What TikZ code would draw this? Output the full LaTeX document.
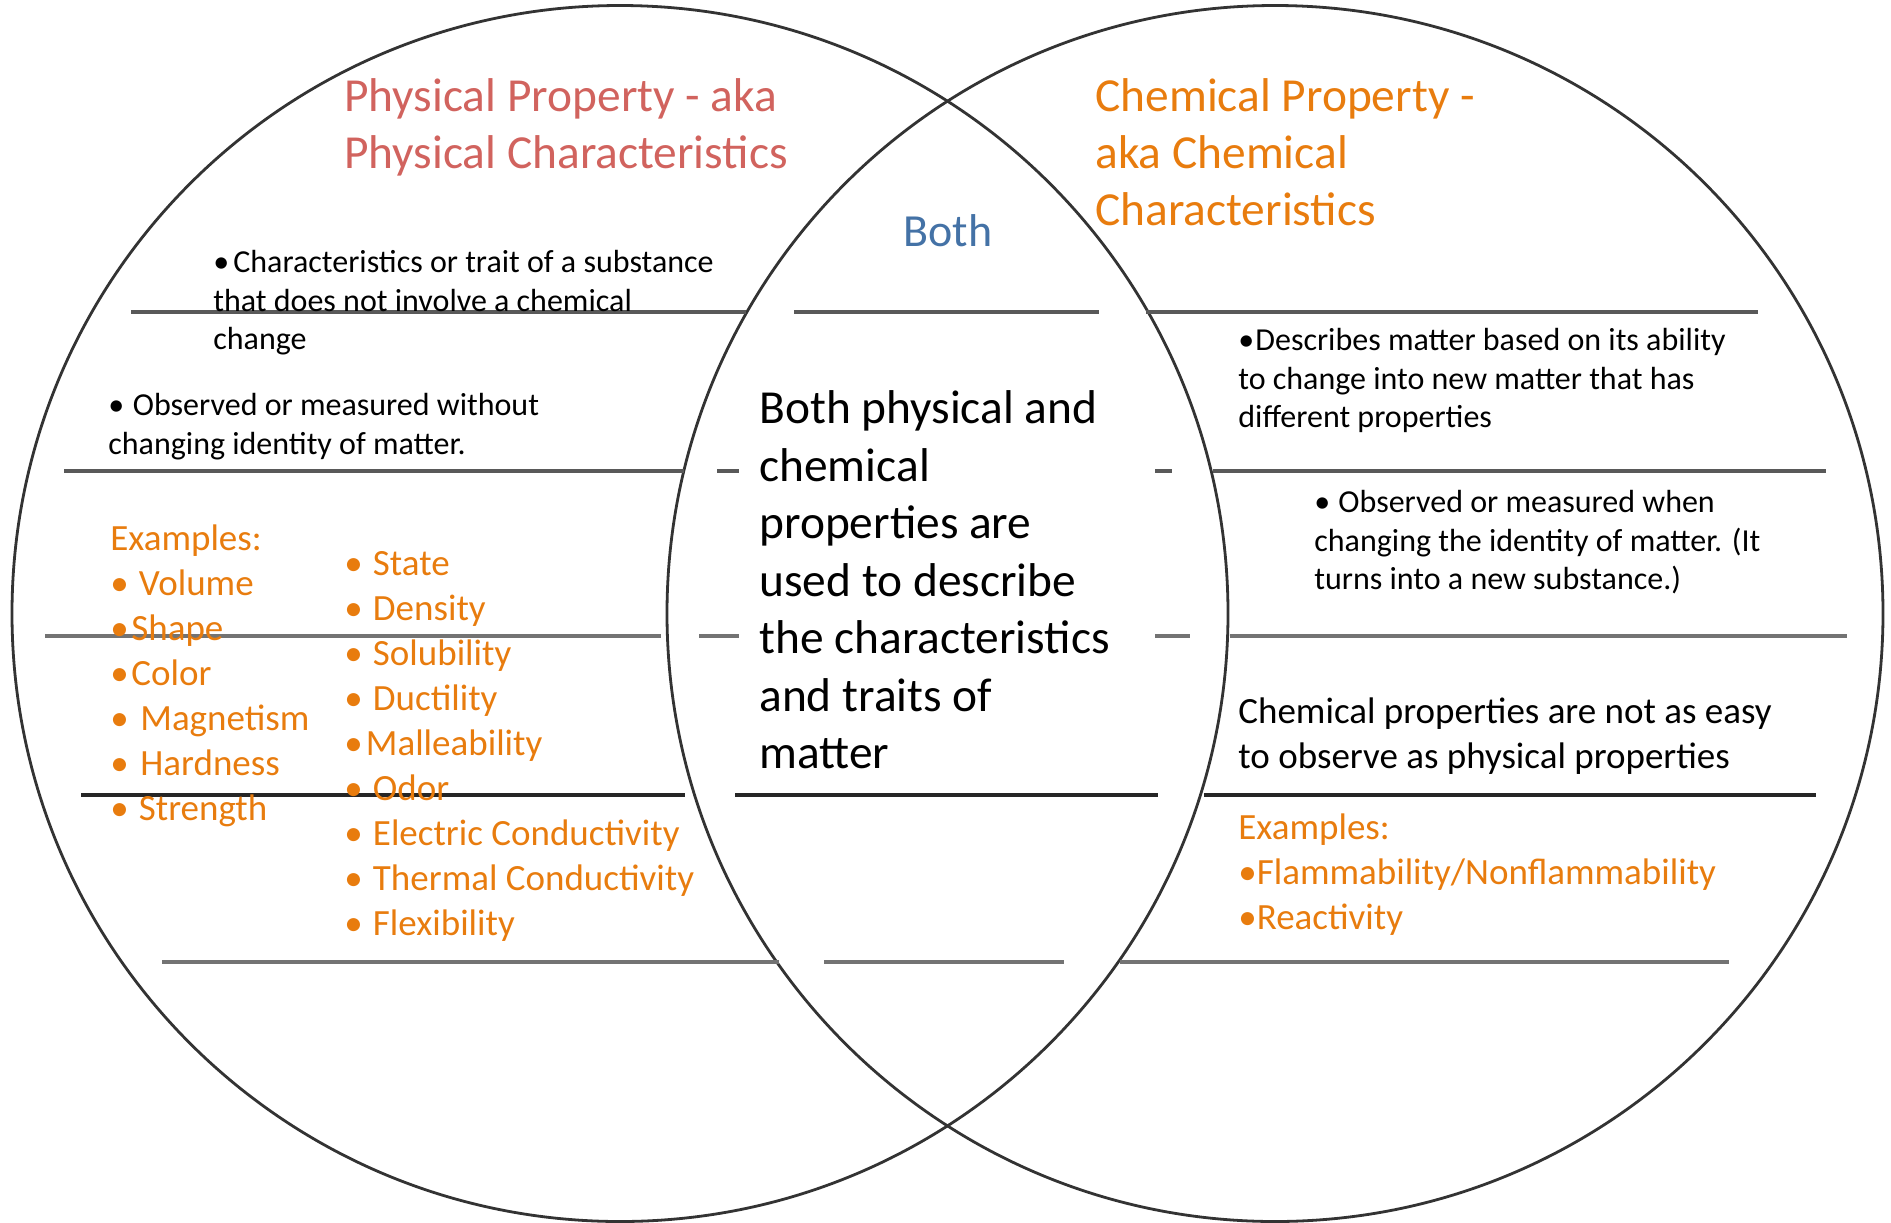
\documentclass[tikz,border=0pt]{standalone}
\usepackage{fontspec}
\setmainfont{Carlito}
\definecolor{physred}{RGB}{209,99,94}
\definecolor{chemorange}{RGB}{232,124,14}
\definecolor{bothblue}{RGB}{68,114,166}
\newcommand{\bul}[1]{\makebox[#1][l]{\textbullet}}

\begin{document}
\begin{tikzpicture}[x=0.5pt, y=-0.5pt,
	ring/.style={draw=black!80, line width=1.4pt},
	rule/.style={line width=2.2pt, draw=black!65},
	head/.style={anchor=north west, inner sep=0pt, align=left, font=\fontsize{23.7}{28.5}\selectfont},
	note/.style={anchor=north west, inner sep=0pt, align=left, font=\fontsize{16}{19.3}\selectfont},
	list/.style={anchor=north west, inner sep=0pt, align=left, text=chemorange, font=\fontsize{18.5}{22.5}\selectfont}]
	\useasboundingbox (0, 0) rectangle (1891, 1222);

	\draw[ring] (620, 613.5) circle [radius=608];			% physical circle
	\draw[ring] (1275, 613.5) circle [radius=608];			% chemical circle

	\draw[rule] (131, 312) -- (746, 312) (794, 312) -- (1099, 312) (1146, 312) -- (1758, 312);
	\draw[rule] (64, 471) -- (684, 471) (717, 471) -- (739, 471) (1155, 471) -- (1172, 471) (1213, 471) -- (1826, 471);
	\draw[rule, draw=black!55] (45, 636) -- (661, 636) (699, 636) -- (739, 636) (1155, 636) -- (1190, 636) (1230, 636) -- (1847, 636);
	\draw[rule, draw=black!85] (81, 795) -- (685, 795) (735, 795) -- (1158, 795) (1204, 795) -- (1816, 795);
	\draw[rule, draw=black!55] (162, 962) -- (779, 962) (824, 962) -- (1064, 962) (1120, 962) -- (1729, 962);

	% headings
	\node[head, text=physred] (phys) at (344, 71.5) {\strut Physical Property - aka\\Physical Characteristics};
	\node[head, text=chemorange] (chem) at (1095, 71.5) {\strut Chemical Property -\\aka Chemical\\Characteristics};
	\node[anchor=base west, inner sep=0pt, text=bothblue, font=\fontsize{23}{28}\selectfont] (both) at (903, 246) {Both};

	% middle
	\node[head, font=\fontsize{23.7}{28.75}\selectfont] (shared) at (759, 383) {\strut Both physical and\\chemical\\properties are\\used to describe\\the characteristics\\and traits of\\matter};

	% left side
	\node[note] (physdef) at (213, 245) {\strut\bul{10pt}Characteristics or trait of a substance\\that does not involve a chemical\\change};
	\node[note] (physobs) at (108, 388) {\strut\bul{12.25pt}Observed or measured without\\changing identity of matter.};
	\node[list] (physex) at (110, 519) {\strut Examples:\\\bul{14.25pt}Volume\\\bul{10.5pt}Shape\\\bul{10.5pt}Color\\\bul{15pt}Magnetism\\\bul{15pt}Hardness\\\bul{14.25pt}Strength};
	\node[list] (physmore) at (344, 544) {\strut\bul{14.3pt}State\\\bul{14.3pt}Density\\\bul{14.3pt}Solubility\\\bul{14.3pt}Ductility\\\bul{10.75pt}Malleability\\\bul{14.3pt}Odor\\\bul{14.3pt}Electric Conductivity\\\bul{14.3pt}Thermal Conductivity\\\bul{14.3pt}Flexibility};

	% right side
	\node[note] (chemdef) at (1238, 323) {\strut\bul{8.5pt}Describes matter based on its ability\\to change into new matter that has\\different properties};
	\node[note] (chemobs) at (1314, 485) {\strut\bul{12pt}Observed or measured when\\changing the identity of matter. (It\\turns into a new substance.)};
	\node[list, text=black] (chemnote) at (1238, 692) {\strut Chemical properties are not as easy\\to observe as physical properties};
	\node[list] (chemex) at (1238, 808) {\strut Examples:\\\textbullet Flammability/Nonflammability\\\textbullet Reactivity};

\end{tikzpicture}
\end{document}
